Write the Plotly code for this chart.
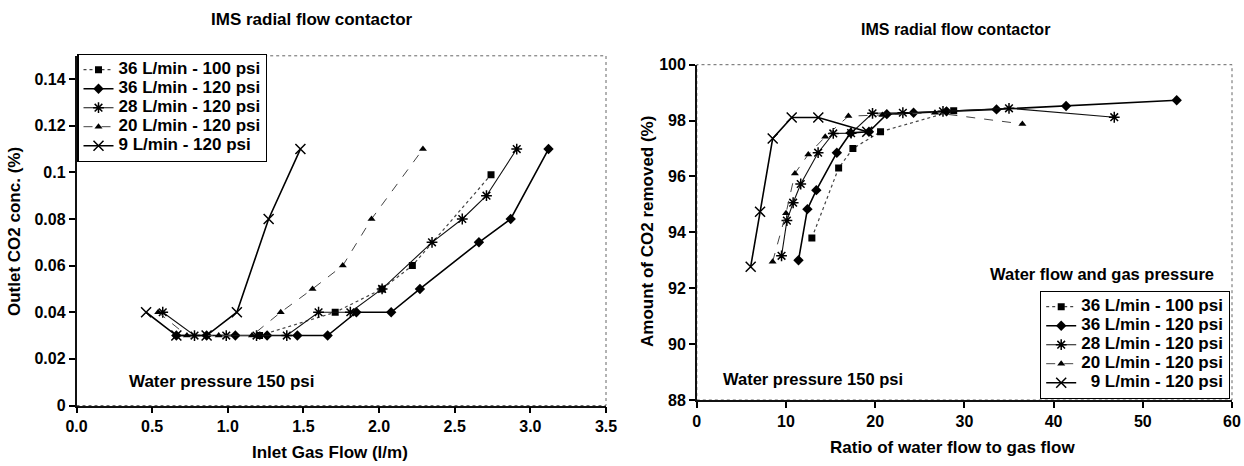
import plotly.graph_objects as go

# ---------------- data (left chart: outlet CO2 vs inlet gas flow) ----------------
series_names = ["36 L/min - 100 psi", "36 L/min - 120 psi", "28 L/min - 120 psi",
                "20 L/min - 120 psi", "9 L/min - 120 psi"]

gas_36_100 = [1.21, 1.71, 2.02, 2.22, 2.74]
co2_36_100 = [0.03, 0.04, 0.05, 0.06, 0.099]

gas_36_120 = [0.66, 0.86, 1.05, 1.26, 1.46, 1.66, 1.85, 2.08, 2.27, 2.66, 2.87, 3.12]
co2_36_120 = [0.03, 0.03, 0.03, 0.03, 0.03, 0.03, 0.04, 0.04, 0.05, 0.07, 0.08, 0.11]

gas_28_120 = [0.57, 0.78, 0.99, 1.19, 1.39, 1.60, 1.81, 2.02, 2.35, 2.55, 2.71, 2.91]
co2_28_120 = [0.04, 0.03, 0.03, 0.03, 0.03, 0.04, 0.04, 0.05, 0.07, 0.08, 0.09, 0.11]

gas_20_120 = [0.54, 0.73, 0.94, 1.16, 1.35, 1.56, 1.76, 1.95, 2.29]
co2_20_120 = [0.04, 0.03, 0.03, 0.03, 0.04, 0.05, 0.06, 0.08, 0.11]

gas_9_120 = [0.46, 0.66, 0.86, 1.06, 1.27, 1.48]
co2_9_120 = [0.04, 0.03, 0.03, 0.04, 0.08, 0.11]

# ---------------- data (right chart: CO2 removed vs water/gas ratio) ----------------
ratio_36_100 = [12.9, 15.9, 17.5, 20.6, 28.8]
rem_36_100 = [93.8, 96.3, 97.0, 97.6, 98.35]

ratio_36_120 = [11.4, 12.4, 13.4, 15.7, 17.25, 19.3, 21.3, 24.3, 28.0, 33.6, 41.4, 53.8]
rem_36_120 = [93.0, 94.83, 95.51, 96.85, 97.56, 97.6, 98.23, 98.28, 98.33, 98.4, 98.52, 98.73]

ratio_28_120 = [9.5, 10.1, 10.8, 11.65, 13.6, 15.3, 17.3, 19.7, 23.1, 27.6, 35.0, 46.8]
rem_28_120 = [93.16, 94.42, 95.06, 95.73, 96.85, 97.54, 97.55, 98.26, 98.28, 98.33, 98.44, 98.12]

ratio_20_120 = [8.5, 10.0, 11.0, 12.5, 14.4, 17.0, 20.8, 26.7, 36.5]
rem_20_120 = [92.95, 94.68, 96.11, 96.79, 97.42, 98.16, 98.2, 98.28, 97.88]

ratio_9_120 = [6.04, 7.09, 8.51, 10.64, 13.62, 19.11]
rem_9_120 = [92.77, 94.74, 97.36, 98.11, 98.11, 97.6]

# ---------------- ticks ----------------
left_x_ticks = [0.0, 0.5, 1.0, 1.5, 2.0, 2.5, 3.0, 3.5]
left_x_labels = ["0.0", "0.5", "1.0", "1.5", "2.0", "2.5", "3.0", "3.5"]
left_y_ticks = [0, 0.02, 0.04, 0.06, 0.08, 0.10, 0.12, 0.14]
left_y_labels = ["0", "0.02", "0.04", "0.06", "0.08", "0.1", "0.12", "0.14"]
right_x_ticks = [0, 10, 20, 30, 40, 50, 60]
right_x_labels = ["0", "10", "20", "30", "40", "50", "60"]
right_y_ticks = [88, 90, 92, 94, 96, 98, 100]
right_y_labels = ["88", "90", "92", "94", "96", "98", "100"]

# ---------------- styling ----------------
W, H = 1244, 466
FONT = "Liberation Sans, Arial, Helvetica, sans-serif"

styles = [
    dict(symbol="square", size=7, dash="dot", width=1.2, lcolor="#444"),
    dict(symbol="diamond", size=8, dash="solid", width=1.6, lcolor="#000"),
    dict(symbol="asterisk-open", size=9, dash="solid", width=1.1, lcolor="#111"),
    dict(symbol="triangle-up", size=7, dash="dash", width=1.0, lcolor="#444"),
    dict(symbol="x-thin-open", size=10, dash="solid", width=1.6, lcolor="#000"),
]

left_data = [(gas_36_100, co2_36_100), (gas_36_120, co2_36_120), (gas_28_120, co2_28_120),
             (gas_20_120, co2_20_120), (gas_9_120, co2_9_120)]
right_data = [(ratio_36_100, rem_36_100), (ratio_36_120, rem_36_120), (ratio_28_120, rem_28_120),
              (ratio_20_120, rem_20_120), (ratio_9_120, rem_9_120)]


def bold(labels):
    return ["<b>%s</b>" % t for t in labels]


fig = go.Figure()


def marker_for(st):
    open_sym = st["symbol"].endswith("open")
    return dict(symbol=st["symbol"], size=st["size"], color="#000",
                line=dict(color="#000", width=1.5 if open_sym else 0))


for name, st, (xs, ys) in zip(series_names, styles, left_data):
    fig.add_trace(go.Scatter(
        x=xs, y=ys, mode="lines+markers", xaxis="x", yaxis="y", legend="legend",
        name='<span style="font-size:17px"><b>%s</b></span>' % name,
        line=dict(color=st["lcolor"], width=st["width"], dash=st["dash"]),
        marker=marker_for(st)))

for name, st, (xs, ys) in zip(series_names, styles, right_data):
    label = name if not name.startswith("9 ") else "\u00a0\u00a0" + name
    fig.add_trace(go.Scatter(
        x=xs, y=ys, mode="lines+markers", xaxis="x2", yaxis="y2", legend="legend2",
        name='<span style="font-size:17px"><b>%s</b></span>' % label,
        line=dict(color=st["lcolor"], width=st["width"], dash=st["dash"]),
        marker=marker_for(st)))

# plot-area pixel boxes
L = dict(x0=76.5, x1=606, y0=55.8, y1=405.5)
R = dict(x0=696.8, x1=1232, y0=64.7, y1=400)

axis_common = dict(showgrid=False, zeroline=False, ticks="outside", ticklen=6, tickwidth=1.5,
                   tickcolor="#000", showline=True, linecolor="#111", linewidth=1.5,
                   tickfont=dict(family=FONT, size=16, color="#000"),
                   automargin=False, fixedrange=True)

fig.update_layout(
    width=W, height=H,
    margin=dict(l=0, r=0, t=0, b=0, pad=0),
    paper_bgcolor="white", plot_bgcolor="white",
    xaxis=dict(domain=[L["x0"] / W, L["x1"] / W], range=[0, 3.5], anchor="y",
               tickmode="array", tickvals=left_x_ticks, ticktext=bold(left_x_labels), **axis_common),
    yaxis=dict(domain=[1 - L["y1"] / H, 1 - L["y0"] / H], range=[0, 0.15], anchor="x",
               tickmode="array", tickvals=left_y_ticks, ticktext=bold(left_y_labels), **axis_common),
    xaxis2=dict(domain=[R["x0"] / W, R["x1"] / W], range=[0, 60], anchor="y2",
                tickmode="array", tickvals=right_x_ticks, ticktext=bold(right_x_labels), **axis_common),
    yaxis2=dict(domain=[1 - R["y1"] / H, 1 - R["y0"] / H], range=[88, 100], anchor="x2",
                tickmode="array", tickvals=right_y_ticks, ticktext=bold(right_y_labels), **axis_common),
    legend=dict(x=77.3 / W, y=1 - 54 / H, xanchor="left", yanchor="top",
                bgcolor="white", bordercolor="#000", borderwidth=1.2,
                font=dict(family=FONT, size=12, color="#000"),
                itemwidth=30, tracegroupgap=0),
    legend2=dict(x=1230 / W, y=1 - 291 / H, xanchor="right", yanchor="top",
                 bgcolor="white", bordercolor="#000", borderwidth=1.2,
                 font=dict(family=FONT, size=11, color="#000"),
                 itemwidth=30, tracegroupgap=0),
    showlegend=True,
)

# frames (top / right edges of each plot area)
for xr, yr in (("x domain", "y domain"), ("x2 domain", "y2 domain")):
    fig.add_shape(type="rect", xref=xr, yref=yr, x0=0, x1=1, y0=0, y1=1,
                  line=dict(color="#666", width=1, dash="dot"), layer="below")


def ann(text, px, py, size=17, angle=0):
    fig.add_annotation(text="<b>%s</b>" % text, x=px / W, y=1 - py / H, xref="paper", yref="paper",
                       xanchor="center", yanchor="middle", showarrow=False, textangle=angle,
                       font=dict(family=FONT, size=size, color="#000"))


ann("IMS radial flow contactor", 312, 20, 17)
ann("IMS radial flow contactor", 955, 29, 16)
ann("Inlet Gas Flow (l/m)", 330, 452, 17)
ann("Ratio of water flow to gas flow", 953, 447, 17)
ann("Outlet CO2 conc. (%)", 14, 232, 17, -90)
ann("Amount of CO2 removed (%)", 647, 232, 17, -90)
ann("Water pressure 150 psi", 222, 381, 17)
ann("Water pressure 150 psi", 813, 379, 16.5)
ann("Water flow and gas pressure", 1102, 274, 16.5)

fig.write_html("out.html",
               config={"displayModeBar": False, "staticPlot": False},
               post_script="document.body.style.margin='0';document.body.style.padding='0';"
                           "document.body.style.overflow='hidden';")
